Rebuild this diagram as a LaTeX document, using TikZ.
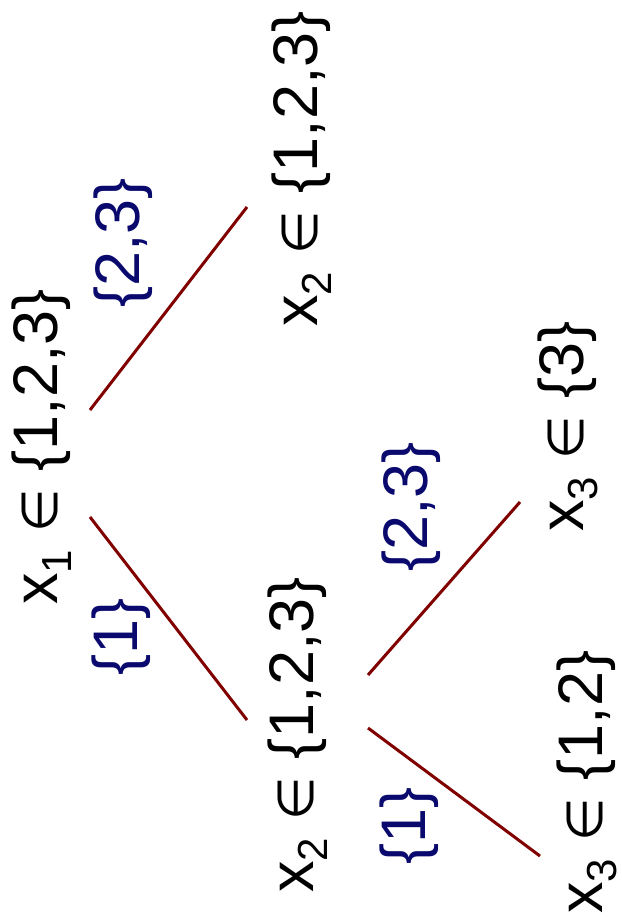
\documentclass[tikz,border=0pt]{standalone}
\usepackage{fontspec}
\setmainfont{Liberation Sans}
\newfontfamily\symfont{DejaVu Sans}
\definecolor{lblblue}{RGB}{10,10,110}
\definecolor{edgered}{RGB}{128,0,0}
\newcommand{\sub}[1]{\raisebox{-14pt}{\fontsize{42}{42}\selectfont #1}}
\newcommand{\elem}{{\symfont\fontsize{50}{50}\selectfont ∈}}
\tikzset{
  var/.style={rotate=90, anchor=base west, inner sep=0pt, font=\fontsize{63}{70}\selectfont},
  lab/.style={var, text=lblblue},
  branch/.style={draw=edgered, line width=3pt}
}
\begin{document}
\begin{tikzpicture}[x=1pt,y=-1pt]
\useasboundingbox (0,0) rectangle (621,917);
\node[var] (A) at (57,605) {x\sub{1} \elem{} \{1,2,3\}};
\node[var] (B) at (317,327) {x\sub{2} \elem{} \{1,2,3\}};
\node[var] (C) at (313,893) {x\sub{2} \elem{} \{1,2,3\}};
\node[var] (D) at (583,532) {x\sub{3} \elem{} \{3\}};
\node[var] (E) at (602,914) {x\sub{3} \elem{} \{1,2\}};
\node[lab] (lAB) at (139,308) {\{2,3\}};
\node[lab] (lAC) at (137,676) {\{1\}};
\node[lab] (lCD) at (427,572) {\{2,3\}};
\node[lab] (lCE) at (425,865) {\{1\}};
\coordinate (a1) at (90,410);
\coordinate (b1) at (247,207);
\coordinate (a2) at (90,517);
\coordinate (c1) at (247,720);
\coordinate (c2) at (368,675);
\coordinate (d1) at (520,502);
\coordinate (c3) at (368,728);
\coordinate (e1) at (540,856);
\draw[branch] (a1) -- (b1);
\draw[branch] (a2) -- (c1);
\draw[branch] (c2) -- (d1);
\draw[branch] (c3) -- (e1);
\end{tikzpicture}
\end{document}
